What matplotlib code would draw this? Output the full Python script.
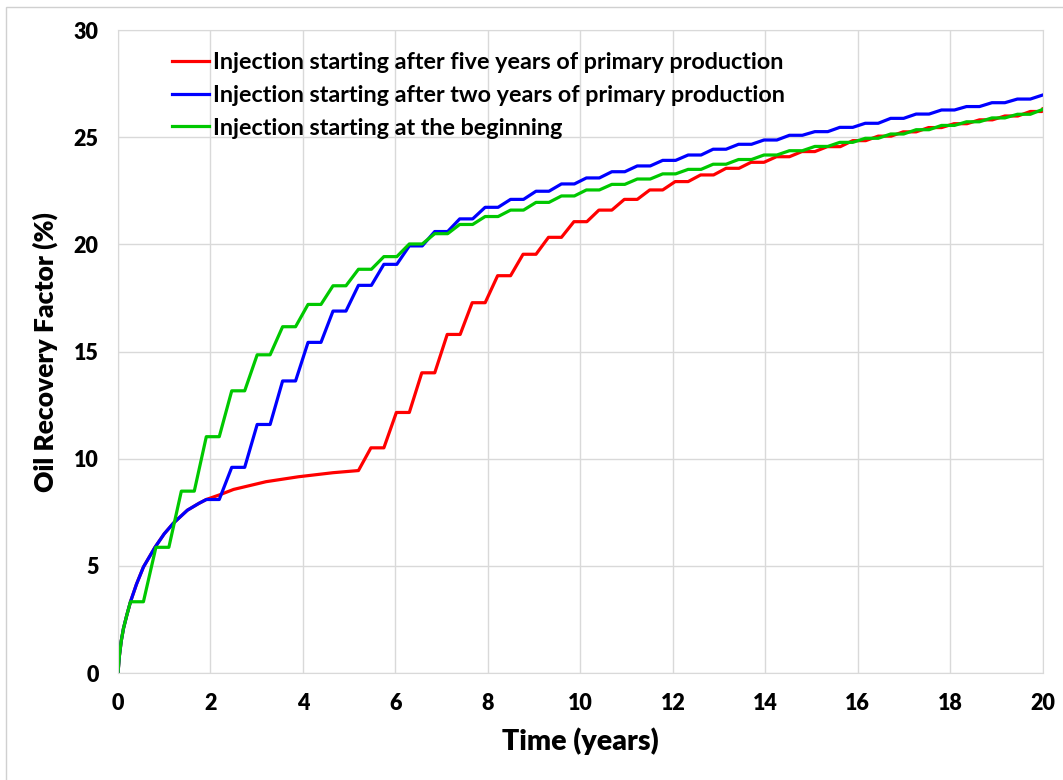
import numpy as np
import matplotlib
matplotlib.use("Agg")
import matplotlib.pyplot as plt
from matplotlib.patches import Rectangle

plt.rcParams['font.family'] = ['Lato', 'DejaVu Sans']
plt.rcParams['font.weight'] = 'bold'

# Primary production curve (no injection), shared by all cases until injection starts
primary_t = [0.0, 0.03, 0.07, 0.12, 0.19, 0.27, 0.4, 0.55, 0.8, 1.0, 1.2, 1.5, 1.75, 1.91,
             2.2, 2.5, 3.2, 3.9, 4.65, 5.2]
primary_v = [0.0, 0.8, 1.5, 2.1, 2.7, 3.33, 4.15, 4.95, 5.87, 6.5, 7.0, 7.6, 7.92, 8.1,
             8.32, 8.57, 8.93, 9.16, 9.35, 9.45]

# Start of each injection cycle plateau (years)
green_t = [0.27, 0.82, 1.37, 1.91, 2.46, 3.01, 3.56, 4.11, 4.65, 5.20, 5.75, 6.30,
           6.85, 7.39, 7.94, 8.49, 9.04, 9.59, 10.13, 10.68, 11.23, 11.78, 12.33, 12.87,
           13.42, 13.97, 14.52, 15.07, 15.61, 16.16, 16.71, 17.26, 17.81, 18.35, 18.90, 19.45]
blue_t = green_t[3:]
red_t = [5.47, 6.02, 6.57, 7.12, 7.66, 8.21, 8.76, 9.31, 9.86, 10.40, 10.95, 11.50,
         12.05, 12.60, 13.15, 13.69, 14.24, 14.79, 15.34, 15.89, 16.44, 16.98, 17.53,
         18.08, 18.63, 19.18, 19.73]

# Recovery factor on each plateau (%)
green_v = [3.33, 5.87, 8.49, 11.03, 13.17, 14.85, 16.16, 17.2, 18.07, 18.84, 19.43, 20.02,
           20.5, 20.93, 21.3, 21.6, 21.96, 22.26, 22.54, 22.8, 23.05, 23.29, 23.5, 23.74,
           23.96, 24.17, 24.37, 24.57, 24.76, 24.95, 25.15, 25.35, 25.55, 25.72, 25.9, 26.07]
blue_v = [8.1, 9.6, 11.6, 13.63, 15.43, 16.89, 18.09, 19.07, 19.93, 20.6, 21.19, 21.73,
          22.1, 22.48, 22.82, 23.1, 23.39, 23.66, 23.92, 24.17, 24.44, 24.67, 24.87, 25.09,
          25.26, 25.46, 25.65, 25.88, 26.08, 26.27, 26.43, 26.61, 26.78]
red_v = [10.51, 12.16, 14.01, 15.8, 17.28, 18.54, 19.54, 20.33, 21.06, 21.6, 22.1, 22.54,
         22.93, 23.24, 23.55, 23.83, 24.09, 24.33, 24.56, 24.84, 25.05, 25.25, 25.45,
         25.63, 25.81, 25.99, 26.2]

green_end = 26.3
blue_end = 26.97
red_end = 26.32

plateau = 0.28  # length of the flat part of each cycle (years)


def build_curve(t_steps, v_steps, t_end, v_end):
    # primary curve up to the first plateau, then flat/ramp cycles
    ts = [t for t in primary_t if t < t_steps[0]]
    vs = [v for t, v in zip(primary_t, primary_v) if t < t_steps[0]]
    for t, v in zip(t_steps, v_steps):
        ts += [t, min(t + plateau, t_end - 0.02)]
        vs += [v, v]
    ts.append(t_end)
    vs.append(v_end)
    return np.array(ts), np.array(vs)


fig = plt.figure(figsize=(10.63, 7.8), dpi=100)
ax = fig.add_axes([0.111, 0.137, 0.87, 0.8245])

labels = ['Injection starting after five years of primary production',
          'Injection starting after two years of primary production',
          'Injection starting at the beginning']

rx, ry = build_curve(red_t, red_v, 20.0, red_end)
bx, by = build_curve(blue_t, blue_v, 20.0, blue_end)
gx, gy = build_curve(green_t, green_v, 20.0, green_end)

ax.plot(rx, ry, color='#ff0000', lw=2.3, label=labels[0])
ax.plot(bx, by, color='#0000ff', lw=2.3, label=labels[1])
ax.plot(gx, gy, color='#00c800', lw=2.3, label=labels[2])

ax.set_xlim(0, 20)
ax.set_ylim(0, 30)
ax.set_xticks(np.arange(0, 21, 2))
ax.set_yticks(np.arange(0, 31, 5))
ax.grid(True, color='#d9d9d9', lw=1.0)
ax.set_axisbelow(True)
for s in ax.spines.values():
    s.set_color('#d9d9d9')
ax.tick_params(length=0, labelsize=15.5, pad=14)
for lab in ax.get_xticklabels() + ax.get_yticklabels():
    lab.set_fontweight('heavy')

ax.set_xlabel('Time (years)', fontsize=20.5, fontweight='heavy', labelpad=10)
ax.set_ylabel('Oil Recovery Factor (%)', fontsize=19, fontweight='heavy', labelpad=11)

ax.legend(loc='upper left', bbox_to_anchor=(0.048, 0.98), frameon=False,
          prop={'size': 16.8, 'weight': 'bold'}, handlelength=1.6, handletextpad=0.15,
          labelspacing=0.5, borderaxespad=0)

# thin light border around the figure
fig.patches.append(Rectangle((0.0056, -0.1), 1.2, 1.091, transform=fig.transFigure,
                             fill=False, edgecolor='#d0d0d0', lw=1.0))

fig.savefig('out.png', dpi=100)
